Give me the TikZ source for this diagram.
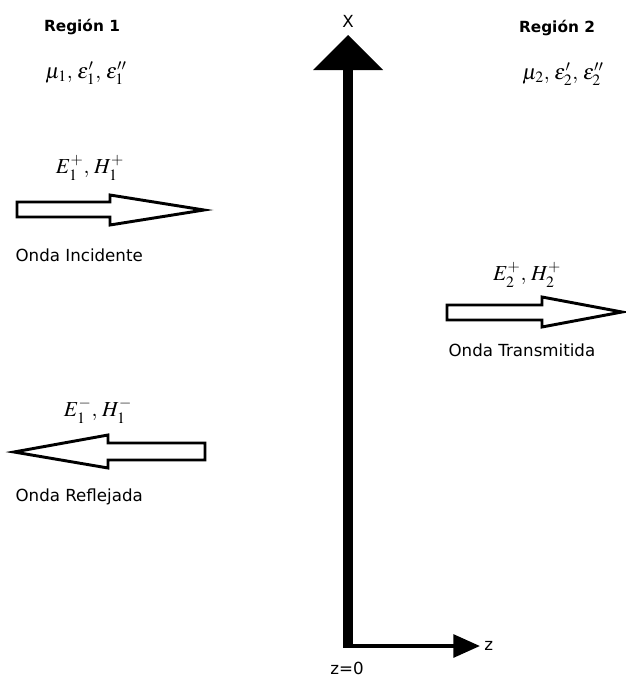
\documentclass[tikz,border=0pt]{standalone}
\usepackage{amsmath}
\usepackage{mathptmx}
\usepackage{fontspec}
\setmainfont{DejaVu Sans}
\usepackage{tikz}
\usetikzlibrary{arrows.meta}

\begin{document}
\begin{tikzpicture}[
      x=0.75pt, y=-0.75pt,
      lbl/.style={font=\fontsize{12.5}{14}\selectfont, inner sep=1pt},
      region/.style={font=\fontsize{11.5}{13}\selectfont\bfseries, inner sep=1pt},
      field/.style={font=\fontsize{16}{18}\selectfont, inner sep=1pt},
      blockarrow/.style={draw, line width=2.2pt, fill=white, line join=miter},
      axis/.style={line width=7.5pt}]
    \useasboundingbox (0,0) rectangle (625,678);
    % regions
    \node[region] (reg1) at (82,27) {Región 1};
    \node[field] (mat1) at (86,73) {$\mu_1,\,\varepsilon'_1,\,\varepsilon''_1$};
    \node[region] (reg2) at (557,28) {Región 2};
    \node[field] (mat2) at (563,74) {$\mu_2,\,\varepsilon'_2,\,\varepsilon''_2$};
    % axes
    \coordinate (top) at (348,68);
    \coordinate (orig) at (348,646);
    \coordinate (zend) at (480,646);
    \node[lbl] (xlbl) at (348,21) {X};
    \draw[axis] (orig) -- (top);
    \fill (348,35) -- (313,70) -- (383,70) -- cycle;
    \draw[line width=3pt, -{Triangle[length=20pt, width=17pt]}] ([xshift=-3.5pt]orig) -- (zend);
    \node[lbl, right=2pt] (zlbl) at (zend) {z};
    \node[lbl] (zero) at (347,668) {z=0};
    % incident wave
    \node[field] (inc) at (90,168) {$E_1^+,\,H_1^+$};
    \draw[blockarrow] (17,202) -- (110,202) -- (110,195) -- (204,210)
      -- (110,225) -- (110,217) -- (17,217) -- cycle;
    \node[lbl, anchor=west] (onda1) at (14,255) {Onda Incidente};
    % transmitted wave
    \node[field] (trans) at (527,275) {$E_2^+,\,H_2^+$};
    \draw[blockarrow] (447,305) -- (542,305) -- (542,297) -- (622,312)
      -- (542,327) -- (542,320) -- (447,320) -- cycle;
    \node[lbl, anchor=west] (onda2) at (447,350) {Onda Transmitida};
    % reflected wave
    \node[field] (refl) at (98,411) {$E_1^-,\,H_1^-$};
    \draw[blockarrow] (205,443) -- (108,443) -- (108,435) -- (14,452)
      -- (108,468) -- (108,460) -- (205,460) -- cycle;
    \node[lbl, anchor=west] (onda3) at (14,497) {Onda Reflejada};
\end{tikzpicture}
\end{document}
